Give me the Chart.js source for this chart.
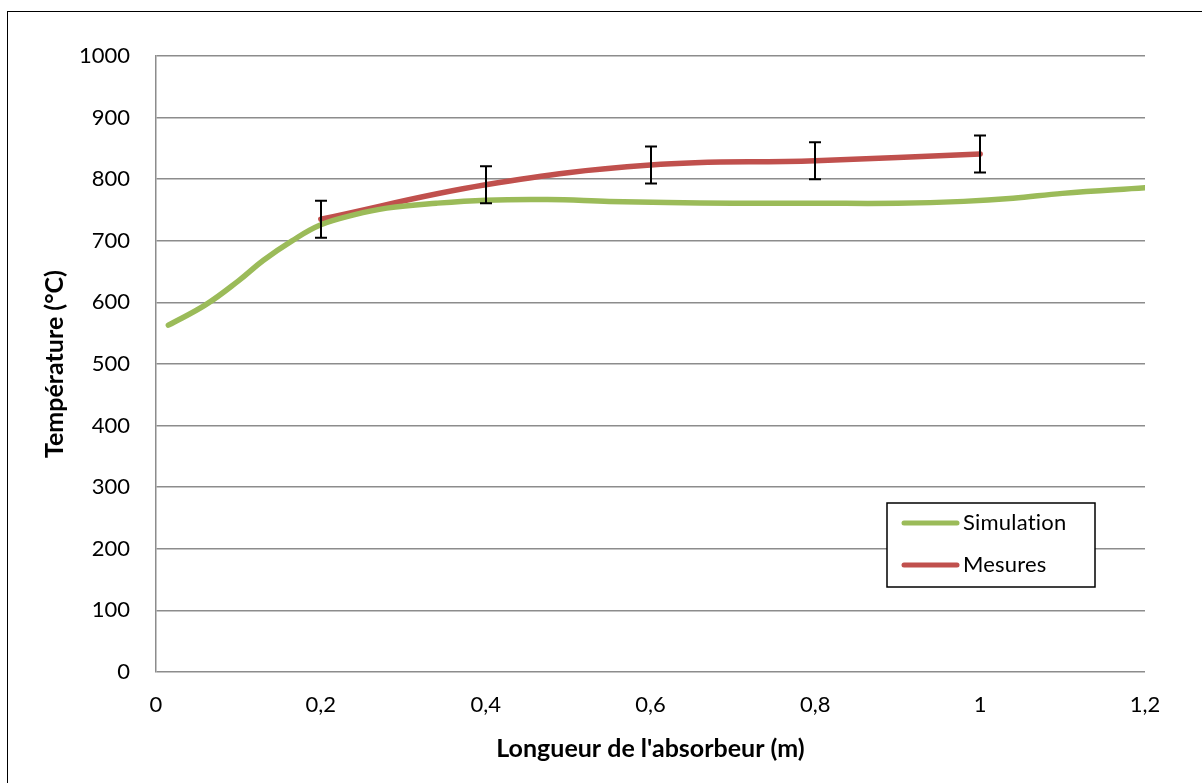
<!DOCTYPE html>
<html>
<head>
<meta charset="utf-8">
<script src="https://cdn.jsdelivr.net/npm/chart.js@4.4.1/dist/chart.umd.min.js"></script>
<style>
  html, body { margin: 0; padding: 0; background: #fff; }
  #wrap { width: 1202px; height: 783px; position: relative; }
</style>
</head>
<body>
<div id="wrap"><canvas id="c"></canvas></div>
<script>
// simulation : longueur (m) / température (°C)
const simX = [0.015, 0.06, 0.1, 0.13, 0.165, 0.2, 0.24, 0.28, 0.34, 0.4, 0.475, 0.55, 0.62, 0.7, 0.8, 0.9, 0.98, 1.04, 1.1, 1.2];
const simY = [563, 596, 635, 668, 700, 726, 742, 753, 761, 766, 767, 764, 762, 761, 761, 761, 764, 769, 777, 786];
// mesures + barres d'erreur
const mesX = [0.2, 0.4, 0.6, 0.8, 1.0];
const mesY = [735, 791, 823, 830, 841];
const mesErr = [30, 30, 30, 30, 30];

const xTicks = [0, 0.2, 0.4, 0.6, 0.8, 1.0, 1.2];
const yTicks = [0, 100, 200, 300, 400, 500, 600, 700, 800, 900, 1000];

const GREEN = '#9bbb59', RED = '#c0504d', GRID = '#8c8c8c';
const fontFamily = 'Lato, "Open Sans", sans-serif';
const fmt = (v) => String(Math.round(v * 10) / 10).replace('.', ',');

const frame = {
  id: 'frame',
  beforeDraw(chart) {
    const { ctx } = chart;
    ctx.save();
    ctx.fillStyle = '#fff';
    ctx.fillRect(0, 0, chart.width, chart.height);
    ctx.strokeStyle = '#000'; ctx.lineWidth = 1;
    ctx.strokeRect(7.5, 11.5, chart.width, chart.height);
    ctx.restore();
  },
};

const errorBars = {
  id: 'errorBars',
  afterDatasetsDraw(chart) {
    const { ctx, scales: { x, y } } = chart;
    ctx.save();
    ctx.strokeStyle = '#000'; ctx.lineWidth = 2;
    mesX.forEach((mx, i) => {
      const px = Math.round(x.getPixelForValue(mx));
      const top = y.getPixelForValue(mesY[i] + mesErr[i]);
      const bot = y.getPixelForValue(mesY[i] - mesErr[i]);
      ctx.beginPath();
      ctx.moveTo(px, top); ctx.lineTo(px, bot);
      ctx.moveTo(px - 6, top); ctx.lineTo(px + 6, top);
      ctx.moveTo(px - 6, bot); ctx.lineTo(px + 6, bot);
      ctx.stroke();
    });
    ctx.restore();
  },
};

const boxLegend = {
  id: 'boxLegend',
  afterDraw(chart) {
    const { ctx, chartArea: a } = chart;
    const bx = a.right - 258, by = a.bottom - 169, bw = 208, bh = 84;
    ctx.save();
    ctx.fillStyle = '#fff';
    ctx.fillRect(bx, by, bw, bh);
    ctx.strokeStyle = '#000'; ctx.lineWidth = 1.5;
    ctx.strokeRect(bx, by, bw, bh);
    ctx.font = '22px ' + fontFamily;
    ctx.letterSpacing = '0.2px'; // pas de ligature "ti"
    ctx.textBaseline = 'middle'; ctx.textAlign = 'left';
    chart.data.datasets.forEach((ds, i) => {
      const ly = by + 20 + i * 42;
      ctx.strokeStyle = ds.borderColor; ctx.lineWidth = 5; ctx.lineCap = 'round';
      ctx.beginPath(); ctx.moveTo(bx + 17, ly); ctx.lineTo(bx + 70, ly); ctx.stroke();
      ctx.fillStyle = '#000';
      ctx.fillText(ds.label, bx + 76, ly);
    });
    ctx.restore();
  },
};

new Chart(document.getElementById('c'), {
  type: 'line',
  data: {
    datasets: [
      { label: 'Simulation', data: simX.map((x, i) => ({ x, y: simY[i] })), borderColor: GREEN,
        borderWidth: 5.5, pointRadius: 0, tension: 0.4, borderCapStyle: 'round', fill: false },
      { label: 'Mesures', data: mesX.map((x, i) => ({ x, y: mesY[i] })), borderColor: RED,
        borderWidth: 5.5, pointRadius: 0, tension: 0.4, borderCapStyle: 'round', fill: false },
    ],
  },
  options: {
    responsive: true, maintainAspectRatio: false, animation: false,
    layout: { padding: { left: 0, top: 56, right: 57, bottom: 0 } },
    plugins: { legend: { display: false }, tooltip: { enabled: false } },
    scales: {
      x: {
        type: 'linear', min: 0, max: 1.2,
        afterBuildTicks: (s) => { s.ticks = xTicks.map((v) => ({ value: v })); },
        afterFit: (s) => { s.height = 111; },
        grid: { display: false, drawTicks: false }, border: { display: false },
        ticks: { color: '#000', font: { family: fontFamily, size: 22 }, padding: 20, maxRotation: 0, callback: fmt },
        title: { display: true, text: "Longueur de l'absorbeur (m)", color: '#000',
          font: { family: fontFamily, size: 25, weight: 'bold' }, padding: { top: 0, bottom: 19 } },
      },
      y: {
        min: 0, max: 1000,
        afterBuildTicks: (s) => { s.ticks = yTicks.map((v) => ({ value: v })); },
        afterFit: (s) => { s.width = 156; },
        grid: { color: GRID, lineWidth: 1.5, drawTicks: false }, border: { display: true, color: GRID, width: 1.5 },
        ticks: { color: '#000', font: { family: fontFamily, size: 22 }, padding: 26, callback: (v) => String(v) },
        title: { display: true, text: 'Température (°C)', color: '#000',
          font: { family: fontFamily, size: 25, weight: 'bold' }, padding: { top: 40, bottom: 0 } },
      },
    },
  },
  plugins: [frame, errorBars, boxLegend],
});
</script>
</body>
</html>
